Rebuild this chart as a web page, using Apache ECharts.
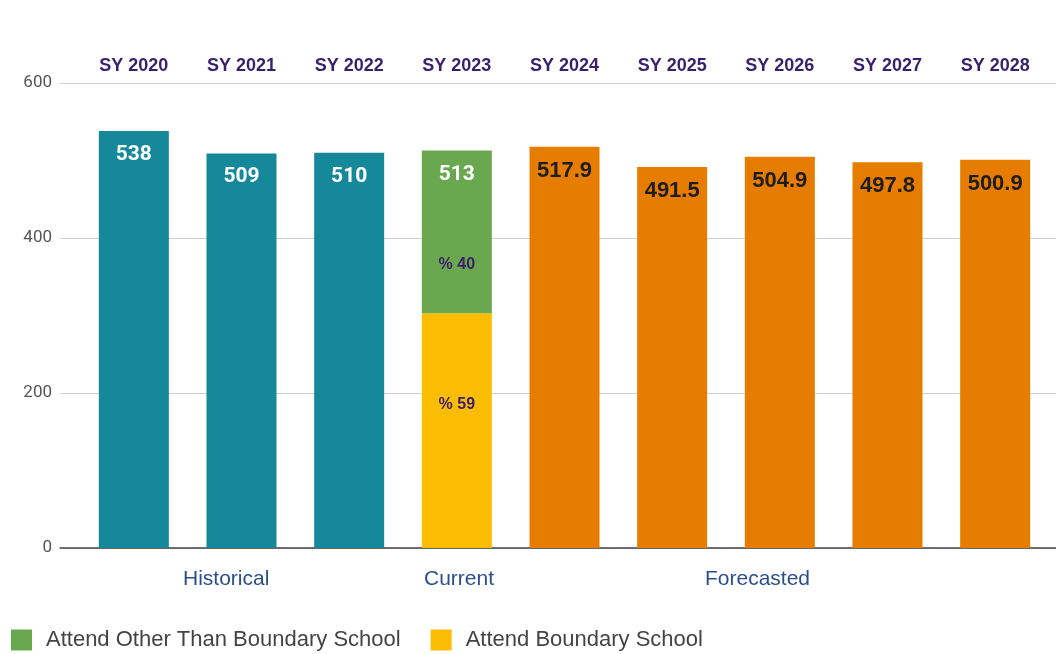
<!DOCTYPE html>
<html><head><meta charset="utf-8">
<script src="https://cdn.jsdelivr.net/npm/echarts@6/dist/echarts.min.js"></script>
<style>html,body{margin:0;padding:0;background:#fff}#c{width:1056px;height:654px}</style>
</head><body><div id="c"></div>
<script>
const categories = ['SY 2020','SY 2021','SY 2022','SY 2023','SY 2024','SY 2025','SY 2026','SY 2027','SY 2028'];
const historical = [538, 509, 510, null, null, null, null, null, null];
const boundary = [null, null, null, 303, null, null, null, null, null];
const otherThanBoundary = [null, null, null, 210, null, null, null, null, null];
const forecasted = [null, null, null, null, 517.9, 491.5, 504.9, 497.8, 500.9];
const periodLabels = ['Historical', 'Current', 'Forecasted'];
const yTicks = [0, 200, 400, 600];

const toData = a => a.map(v => v == null ? '-' : v);
const currentTotal = i => boundary[i] + otherThanBoundary[i];
const pct = (v, i) => '% ' + Math.floor(v / currentTotal(i) * 100);

const chart = echarts.init(document.getElementById('c'));
const option = {
  animation: false,
  grid: [
    {left: 60, right: 0, top: 83, height: 465},
    {left: 80, right: 7, top: 83, height: 465}
  ],
  xAxis: [
    {gridIndex: 0, type: 'value', min: 0, max: 1, axisLabel: {show: false}, axisTick: {show: false},
     splitLine: {show: false}, axisLine: {show: true, lineStyle: {color: '#444', width: 1.5}}},
    {gridIndex: 1, type: 'category', data: categories, position: 'top',
     axisLine: {show: false}, axisTick: {show: false},
     axisLabel: {color: '#3a1f6b', fontWeight: 'bold', fontSize: 18, fontFamily: 'Liberation Sans, Arial', margin: 8}}
  ],
  yAxis: [
    {gridIndex: 0, type: 'value', min: yTicks[0], max: yTicks[yTicks.length-1], interval: 200,
     axisLine: {show: false}, axisTick: {show: false},
     splitLine: {lineStyle: {color: '#cfcfcf', width: 1}},
     axisLabel: {color: '#555', fontSize: 17, fontFamily: 'Roboto', margin: 8}},
    {gridIndex: 1, type: 'value', min: 0, max: 600, show: false}
  ],
  legend: {
    left: 6, top: 624, itemWidth: 21, itemHeight: 21, icon: 'rect', itemGap: 30,
    data: ['Attend Other Than Boundary School', 'Attend Boundary School'],
    textStyle: {color: '#444', fontSize: 22, fontFamily: 'Liberation Sans, Arial', padding: [0, 0, 0, 9]}
  },
  graphic: [
    {type: 'text', left: 183, top: 569, style: {text: periodLabels[0], fill: '#2b4f8e', font: '21px "Liberation Sans", Arial'}},
    {type: 'text', left: 424, top: 569, style: {text: periodLabels[1], fill: '#2b4f8e', font: '21px "Liberation Sans", Arial'}},
    {type: 'text', left: 705, top: 569, style: {text: periodLabels[2], fill: '#2b4f8e', font: '21px "Liberation Sans", Arial'}}
  ],
  series: [
    {name: 'Historical', type: 'bar', xAxisIndex: 1, yAxisIndex: 1, stack: 'all', barWidth: 70,
     data: toData(historical), itemStyle: {color: '#15899a'},
     label: {show: true, position: 'insideTop', distance: 13, color: '#fff', fontWeight: 'bold', fontSize: 21, fontFamily: 'Roboto'}},
    {name: 'Attend Boundary School', type: 'bar', xAxisIndex: 1, yAxisIndex: 1, stack: 'all', barWidth: 70,
     data: toData(boundary), itemStyle: {color: '#fbbc04'},
     label: {show: true, position: 'insideTop', distance: 83, color: '#3a1f6b', fontWeight: 'bold', fontSize: 16,
             fontFamily: 'Liberation Sans, Arial', formatter: p => pct(p.value, p.dataIndex)}},
    {name: 'Attend Other Than Boundary School', type: 'bar', xAxisIndex: 1, yAxisIndex: 1, stack: 'all', barWidth: 70,
     data: toData(otherThanBoundary), itemStyle: {color: '#6aa84f'},
     label: {show: true, position: 'insideTop', distance: 12,
             formatter: p => '{t|' + currentTotal(p.dataIndex) + '}\n{g|}\n{p|' + pct(p.value, p.dataIndex) + '}',
             rich: {
               t: {color: '#fff', fontWeight: 'bold', fontSize: 21, fontFamily: 'Roboto', lineHeight: 24},
               g: {height: 68, lineHeight: 68},
               p: {color: '#3a1f6b', fontWeight: 'bold', fontSize: 16, fontFamily: 'Liberation Sans, Arial', lineHeight: 20}
             }}},
    {name: 'Forecasted', type: 'bar', xAxisIndex: 1, yAxisIndex: 1, stack: 'all', barWidth: 70,
     data: toData(forecasted), itemStyle: {color: '#e67c00'},
     label: {show: true, position: 'insideTop', distance: 13, color: '#1e1e1e', fontWeight: 'bold', fontSize: 22,
             fontFamily: 'Liberation Sans, Arial'}}
  ]
};
chart.setOption(option);
</script></body></html>
